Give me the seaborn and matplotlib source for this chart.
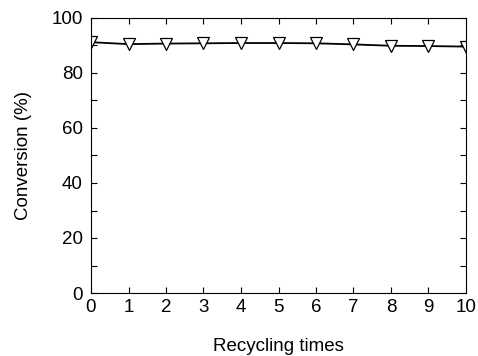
import matplotlib
matplotlib.use("Agg")
import matplotlib.pyplot as plt
import seaborn as sns
import pandas as pd
from matplotlib.ticker import MultipleLocator

cycles = [0, 1, 2, 3, 4, 5, 6, 7, 8, 9, 10]
conversion = [91.2, 90.5, 90.7, 90.8, 90.9, 90.9, 90.8, 90.4, 89.9, 89.8, 89.6]

df = pd.DataFrame({'cycle': cycles, 'conversion': conversion})

sns.set_style('ticks', {'text.color': 'black', 'axes.labelcolor': 'black',
                        'xtick.color': 'black', 'ytick.color': 'black'})
plt.rcParams['font.family'] = ['Liberation Sans', 'DejaVu Sans']

fig = plt.figure(figsize=(4.78, 3.56), dpi=100)
ax = fig.add_axes([91/478, 1 - 293/356, 375/478, 275/356])

sns.lineplot(data=df, x='cycle', y='conversion', ax=ax, color='black', lw=1.3,
             marker='v', markersize=8, markerfacecolor='white',
             markeredgecolor='black', markeredgewidth=0.9)

ax.set_xlim(0, 10)
ax.set_ylim(0, 100)
ax.xaxis.set_major_locator(MultipleLocator(1))
ax.yaxis.set_major_locator(MultipleLocator(20))
ax.yaxis.set_minor_locator(MultipleLocator(10))
ax.tick_params(which='both', direction='in', top=True, right=True,
               labelsize=13.5, color='black', labelcolor='black', width=0.8)
ax.tick_params(axis='x', pad=4)
ax.tick_params(axis='y', pad=6)
ax.tick_params(which='major', length=4)
ax.tick_params(which='minor', length=4)
for s in ax.spines.values():
    s.set_color('black')
    s.set_linewidth(0.8)

ax.set_xlabel('Recycling times', fontsize=13.5, labelpad=16, color='black')
ax.set_ylabel('Conversion (%)', fontsize=13.5, labelpad=14, color='black')

fig.savefig('out.png', dpi=100)
